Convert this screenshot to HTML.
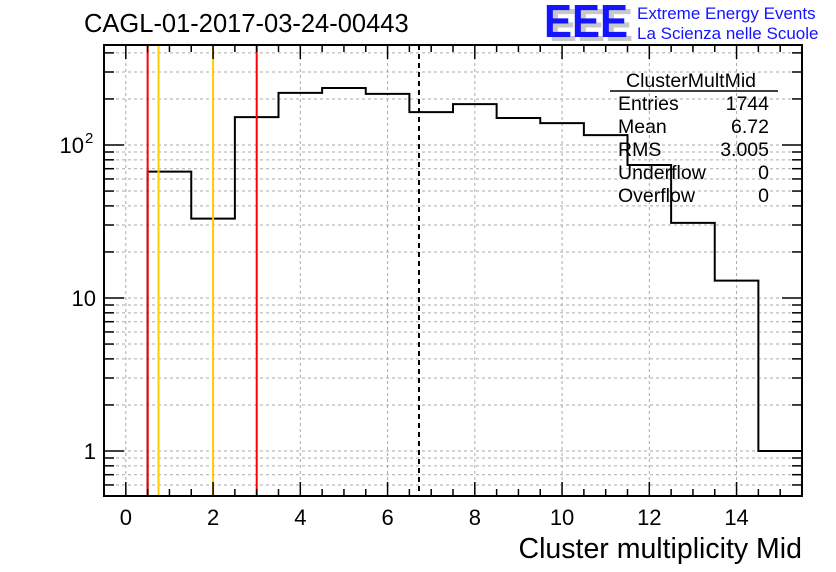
<!DOCTYPE html>
<html><head><meta charset="utf-8"><style>
body{margin:0;background:#fff;}
svg{display:block;font-family:"Liberation Sans",sans-serif;}
</style></head><body>
<svg id="c" width="836" height="572">
<rect width="836" height="572" fill="#fff"/>
<g id="grid"></g>
<path id="hist" fill="none" stroke="#000" stroke-width="2"/>
<g id="lines"></g>
<g id="axes"></g>
<text x="84" y="32" font-size="25.5">CAGL-01-2017-03-24-00443</text>
<g>
<text x="549" y="41" font-size="46" font-weight="bold" fill="#c8c8c8" textLength="84" lengthAdjust="spacingAndGlyphs">EEE</text>
<text x="544" y="37" font-size="46" font-weight="bold" fill="#1414ff" textLength="84" lengthAdjust="spacingAndGlyphs">EEE</text>
<text x="637" y="19" font-size="17" fill="#1414ff">Extreme Energy Events</text>
<text x="637" y="39" font-size="17" fill="#1414ff">La Scienza nelle Scuole</text>
</g>
<g font-size="19.5">
<text x="691" y="87" text-anchor="middle">ClusterMultMid</text>
<line x1="610" y1="91" x2="778" y2="91" stroke="#000" stroke-width="1.5"/>
<text x="618" y="110">Entries</text><text x="769" y="110" text-anchor="end">1744</text>
<text x="618" y="133">Mean</text><text x="769" y="133" text-anchor="end">6.72</text>
<text x="618" y="156">RMS</text><text x="769" y="156" text-anchor="end">3.005</text>
<text x="618" y="179">Underflow</text><text x="769" y="179" text-anchor="end">0</text>
<text x="618" y="202">Overflow</text><text x="769" y="202" text-anchor="end">0</text>
</g>
<text x="802" y="558" font-size="28.5" text-anchor="end">Cluster multiplicity Mid</text>
</svg>
<script>
const binCenters=[0,1,2,3,4,5,6,7,8,9,10,11,12,13,14,15];
const counts=[0,67,33,152,219,236,216,164,185,150,139,116,74,31,13,1];
const xTicks=[0,2,4,6,8,10,12,14];
const yTicks=[1,10,100];
const yTickLabels=["1","10","10"];
const yTickSups=["","","2"];
const redLines=[0.5,3];
const orangeLines=[0.75,2];
const meanValue=6.72;
const X0=104,X1=802,Y0=45,Y1=496,xmin=-0.5,xmax=15.5,ymin=0.5;
const dec=153;
const NS="http://www.w3.org/2000/svg";
function sx(v){return X0+(v-xmin)/(xmax-xmin)*(X1-X0);}
function sy(v){if(v<=ymin)return Y1;return 451-Math.log10(v)*dec;}
function mk(t,a,p){const e=document.createElementNS(NS,t);for(const k in a)e.setAttribute(k,a[k]);p.appendChild(e);return e;}
const grid=document.getElementById('grid'),axes=document.getElementById('axes'),lines=document.getElementById('lines');
xTicks.forEach(v=>{const l=mk('line',{x1:sx(v),x2:sx(v),y1:Y0,y2:Y1,stroke:'#aaa','stroke-dasharray':'3,3'},grid);
});
for(let d=-1;d<=2;d++)for(let m=1;m<=9;m++){const v=m*Math.pow(10,d);const y=sy(v);if(y>Y1||y<Y0)continue;
const l=mk('line',{x1:X0,x2:X1,y1:y,y2:y,stroke:'#aaa','stroke-dasharray':'3,3'},grid);

const t=mk('line',{x1:X0,x2:X0+(m==1?20:10),y1:y,y2:y,stroke:'#000','stroke-width':1.5},axes);

const t2=mk('line',{x1:X1,x2:X1-(m==1?20:10),y1:y,y2:y,stroke:'#000','stroke-width':1.5},axes);
}
let d='';binCenters.forEach((c,i)=>{const y=sy(counts[i]);d+=(i?'L':'M')+sx(c-0.5)+','+y+'L'+sx(c+0.5)+','+y;});
document.getElementById('hist').setAttribute('d',d);
redLines.forEach(v=>{const l=mk('line',{x1:sx(v),x2:sx(v),y1:Y0,y2:Y1,stroke:'#f00','stroke-width':2},lines);
});
orangeLines.forEach(v=>{const l=mk('line',{x1:sx(v),x2:sx(v),y1:Y0,y2:Y1,stroke:'#fc0','stroke-width':2},lines);
});
const ml=mk('line',{x1:sx(meanValue),x2:sx(meanValue),y1:Y0,y2:Y1,stroke:'#000','stroke-width':2,'stroke-dasharray':'5,4'},lines);

const fr=mk('rect',{x:X0,y:Y0,width:X1-X0,height:Y1-Y0,fill:'none',stroke:'#000','stroke-width':2},axes);

for(let v=-0.5;v<=15.5;v+=0.5){const x=sx(v);const major=Number.isInteger(v)&&v%2==0;const len=major?14:7;
const a=mk('line',{x1:x,x2:x,y1:Y1,y2:Y1-len,stroke:'#000','stroke-width':1.5},axes);

const b=mk('line',{x1:x,x2:x,y1:Y0,y2:Y0+len,stroke:'#000','stroke-width':1.5},axes);
}
xTicks.forEach(v=>{const t=mk('text',{x:sx(v),y:525,'font-size':22,'text-anchor':'middle'},axes);t.textContent=v;
});
yTicks.forEach((v,i)=>{const t=mk('text',{x:yTickSups[i]?84:96,y:sy(v)+8,'font-size':22,'text-anchor':'end'},axes);t.textContent=yTickLabels[i];

if(yTickSups[i]){const s=mk('text',{x:85,y:sy(v)-2,'font-size':15},axes);s.textContent=yTickSups[i];
}});
</script>
</body></html>
